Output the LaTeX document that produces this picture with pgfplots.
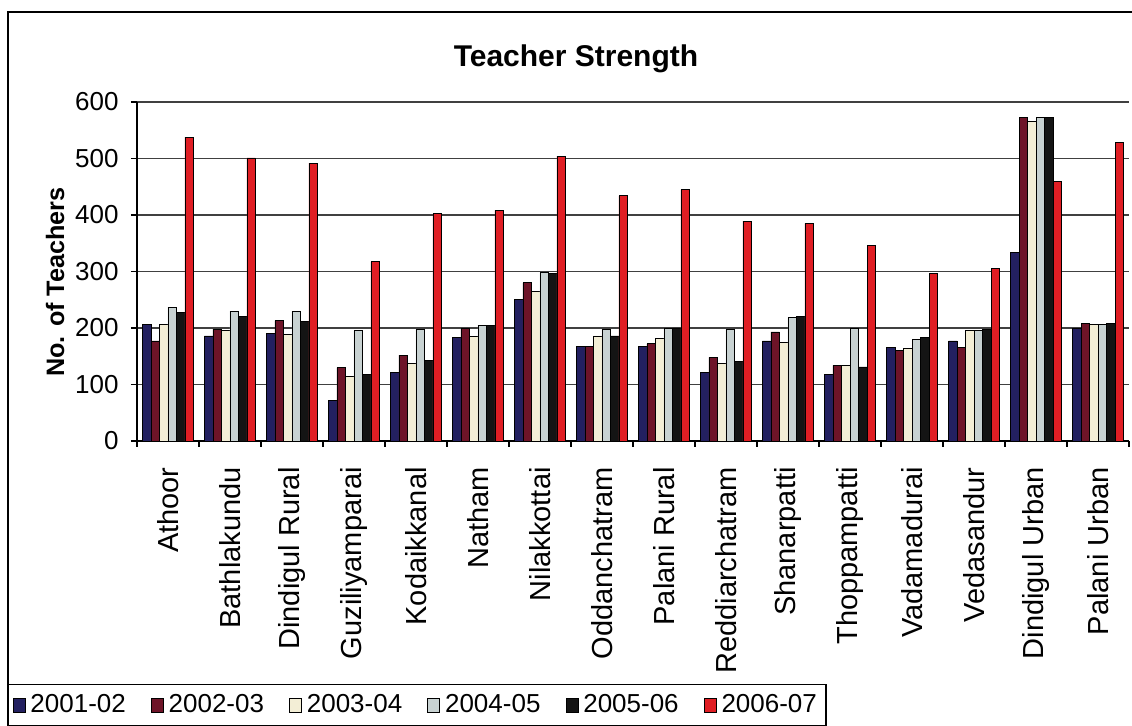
\documentclass[border=0pt]{standalone}
\usepackage{pgfplots}
\pgfplotsset{compat=1.18}
\usepackage{fontspec}
\setmainfont{Liberation Sans}
\definecolor{cA}{HTML}{232060}
\definecolor{cB}{HTML}{6E1428}
\definecolor{cC}{HTML}{F3EED6}
\definecolor{cD}{HTML}{C8D2D2}
\definecolor{cE}{HTML}{141414}
\definecolor{cF}{HTML}{E01E24}
\begin{document}
\begin{tikzpicture}
\useasboundingbox (0,0) rectangle (566pt,363pt);
\draw[line width=0.8pt] (4pt,-2pt) -- (4pt,357pt) -- (570pt,357pt);
\node[font=\fontsize{15}{18}\selectfont\bfseries] at (288pt,333.5pt) {Teacher Strength};
\node[font=\fontsize{12.6}{15}\selectfont\bfseries, rotate=90] at (27.5pt,222pt) {No. of Teachers};
\begin{axis}[
  at={(68.5pt,142.5pt)}, anchor=south west,
  scale only axis, width=496pt, height=169.5pt,
  ybar=0pt, bar width=4.25pt,
  xmin=-0.5, xmax=15.5, ymin=0, ymax=600,
  ytick={0,100,...,600},
  xtick={0,...,15},
  xticklabels={Athoor,Bathlakundu,Dindigul Rural,Guziliyamparai,Kodaikkanal,Natham,Nilakkottai,Oddanchatram,Palani Rural,Reddiarchatram,Shanarpatti,Thoppampatti,Vadamadurai,Vedasandur,Dindigul Urban,Palani Urban},
  minor xtick={-0.5,0.5,...,15.5},
  major x tick style={draw=none},
  minor tick length=3pt, major tick length=3pt,
  tick align=outside,
  axis x line*=bottom, axis y line*=left,
  axis line style={-, line width=0.7pt, black},
  tick style={black, line width=0.6pt},
  ymajorgrids, major grid style={black!75, line width=0.6pt},
  xticklabel style={rotate=90, anchor=east, inner sep=0pt, font=\fontsize{14.5}{17}\selectfont},
  xticklabel shift=10pt,
  yticklabel style={inner sep=0pt, font=\fontsize{13}{15}\selectfont},
  yticklabel shift=6pt,
  /pgf/number format/assume math mode=true,
  clip=false,
  legend columns=6,
  legend style={at={(axis description cs:-0.130,-0.717)}, anchor=north west,
    draw=black, line width=0.6pt, font=\fontsize{13}{15}\selectfont,
    inner ysep=3pt, inner xsep=2pt,
    nodes={inner xsep=2.5pt},
    /tikz/every even column/.append style={column sep=10pt}},
  legend image code/.code={\draw[#1, draw=black, line width=0.4pt] (0pt,-3.5pt) rectangle (6pt,3.5pt);},
  every axis plot/.append style={draw=black, line width=0.4pt},
]
\addplot[fill=cA] coordinates {(0,207) (1,186) (2,190) (3,72) (4,122) (5,183) (6,250) (7,167) (8,168) (9,122) (10,177) (11,118) (12,165) (13,177) (14,334) (15,199)};
\addplot[fill=cB] coordinates {(0,177) (1,198) (2,213) (3,130) (4,152) (5,199) (6,280) (7,167) (8,172) (9,148) (10,193) (11,134) (12,160) (13,166) (14,572) (15,208)};
\addplot[fill=cC] coordinates {(0,206) (1,196) (2,188) (3,115) (4,138) (5,185) (6,265) (7,186) (8,182) (9,138) (10,175) (11,133) (12,164) (13,195) (14,565) (15,207)};
\addplot[fill=cD] coordinates {(0,237) (1,230) (2,230) (3,195) (4,198) (5,205) (6,298) (7,198) (8,199) (9,198) (10,218) (11,199) (12,179) (13,195) (14,573) (15,207)};
\addplot[fill=cE] coordinates {(0,227) (1,220) (2,211) (3,117) (4,142) (5,205) (6,297) (7,186) (8,200) (9,140) (10,220) (11,131) (12,183) (13,198) (14,573) (15,208)};
\addplot[fill=cF] coordinates {(0,538) (1,501) (2,492) (3,317) (4,402) (5,408) (6,504) (7,434) (8,445) (9,389) (10,385) (11,346) (12,297) (13,305) (14,459) (15,528)};
\legend{2001-02,2002-03,2003-04,2004-05,2005-06,2006-07}
\end{axis}
\end{tikzpicture}
\end{document}
